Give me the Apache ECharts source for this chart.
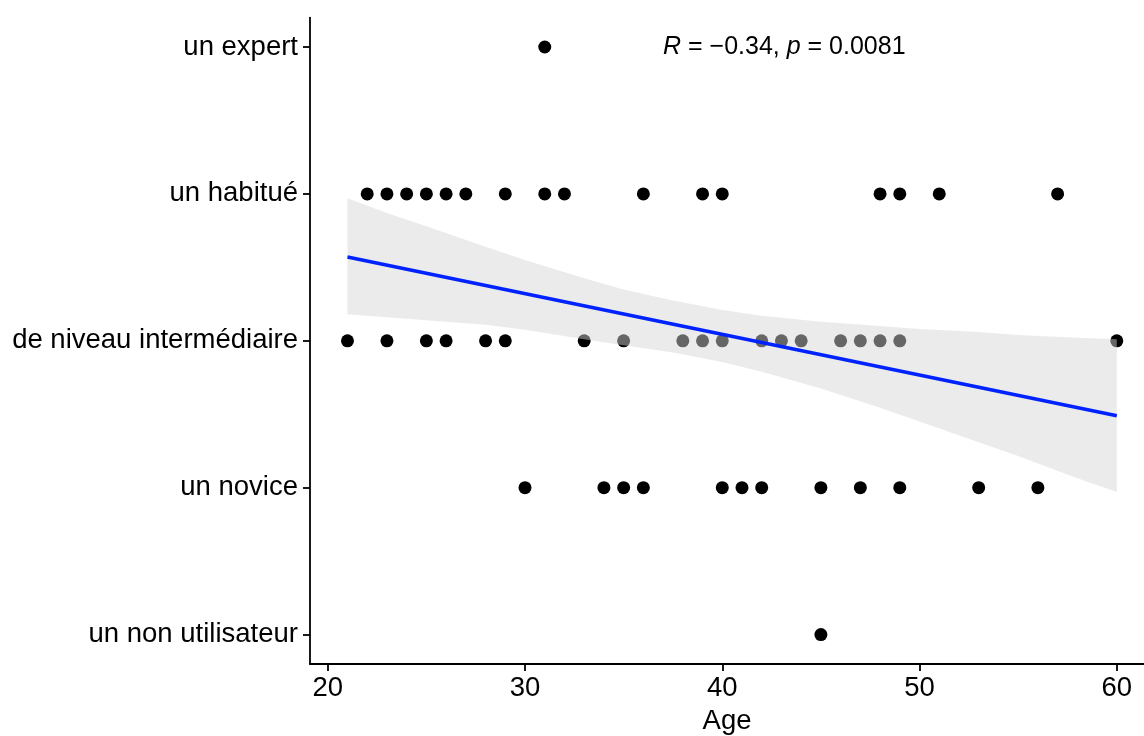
<!DOCTYPE html>
<html>
<head>
<meta charset="utf-8">
<script src="https://cdn.jsdelivr.net/npm/echarts@6/dist/echarts.min.js"></script>
<style>html,body{margin:0;padding:0;background:#fff}#c{width:1144px;height:736px}</style>
</head>
<body>
<div id="c"></div>
<script>
// ----- data -----
const levels = ['un non utilisateur', 'un novice', 'de niveau intermédiaire', 'un habitué', 'un expert'];
const ageExpert = [31];
const ageHabitue = [22, 23, 24, 25, 26, 27, 29, 31, 32, 36, 39, 40, 48, 49, 51, 57];
const ageInter = [21, 23, 25, 26, 28, 29, 33, 35, 38, 39, 40, 42, 43, 44, 46, 47, 48, 49, 60];
const ageNovice = [30, 34, 35, 36, 40, 41, 42, 45, 47, 49, 53, 56];
const ageNon = [45];
const xTicks = [20, 30, 40, 50, 60];
const yTicks = [1, 2, 3, 4, 5];
// regression line and confidence band
const lineX = [21, 60];
const lineY = [3.57, 2.49];
const bandX = [21, 23, 25, 28, 30, 33, 35, 37.5, 40, 42, 45, 48, 50, 53, 55, 58, 60];
const bandLow = [3.18, 3.16, 3.14, 3.11, 3.075, 3.01, 2.97, 2.92, 2.855, 2.79, 2.675, 2.545, 2.45, 2.31, 2.215, 2.065, 1.97];
const bandHigh = [3.97, 3.87, 3.78, 3.64, 3.55, 3.425, 3.35, 3.275, 3.21, 3.17, 3.13, 3.10, 3.08, 3.06, 3.04, 3.02, 3.01];
const corText = { r: '−0.34', p: '0.0081' };

// ----- build -----
const points = [];
[[ageNon, 1], [ageNovice, 2], [ageInter, 3], [ageHabitue, 4], [ageExpert, 5]].forEach(([arr, lv]) => {
  arr.forEach(a => points.push([a, lv]));
});
const fitData = lineX.map((x, i) => [x, lineY[i]]);
const bandData = bandX.map((x, i) => [x, bandLow[i], bandHigh[i]]);

const FONT = '"Liberation Sans", Arial, sans-serif';
const chart = echarts.init(document.getElementById('c'), null, { renderer: 'canvas' });
chart.setOption({
  animation: false,
  backgroundColor: '#fff',
  grid: { left: 310, right: 0, top: 17.6, bottom: 72, containLabel: false, outerBoundsMode: 'none' },
  xAxis: {
    type: 'value', min: 19.1, max: 61.38,
    name: 'Age', nameLocation: 'middle', nameGap: 43,
    nameTextStyle: { fontFamily: FONT, fontSize: 27.5, color: '#000' },
    axisLine: { show: true, onZero: false, lineStyle: { color: '#000', width: 1.8 } },
    axisTick: { show: true, length: 7, lineStyle: { color: '#000', width: 1.8 }, customValues: xTicks },
    axisLabel: { fontFamily: FONT, fontSize: 27.5, color: '#000', margin: 10, customValues: xTicks },
    splitLine: { show: false }
  },
  yAxis: {
    type: 'value', min: 0.8, max: 5.2,
    axisLine: { show: true, onZero: false, lineStyle: { color: '#000', width: 1.8 } },
    axisTick: { show: true, length: 7, lineStyle: { color: '#000', width: 1.8 }, customValues: yTicks },
    axisLabel: { fontFamily: FONT, fontSize: 27.5, color: '#000', margin: 12, customValues: yTicks,
      formatter: v => levels[Math.round(v) - 1] || '' },
    splitLine: { show: false }
  },
  series: [
    {
      type: 'scatter', data: points, symbol: 'circle', symbolSize: 13,
      itemStyle: { color: '#000', opacity: 1 }, z: 2
    },
    {
      type: 'custom', data: [0], z: 3, silent: true,
      renderItem: (params, api) => {
        const pts = [];
        bandData.forEach(d => pts.push(api.coord([d[0], d[2]])));
        for (let i = bandData.length - 1; i >= 0; i--) pts.push(api.coord([bandData[i][0], bandData[i][1]]));
        return { type: 'polygon', shape: { points: pts },
          style: { fill: 'rgb(213,213,213)', opacity: 0.48 } };
      }
    },
    {
      type: 'line', data: fitData, symbol: 'none', smooth: false, z: 4,
      lineStyle: { color: '#0022ff', width: 3.6 }
    }
  ],
  graphic: [{
    type: 'text', left: 663, top: 35, z: 10,
    style: {
      text: '{i|R} = ' + corText.r + ', {i|p} = ' + corText.p,
      fill: '#000', font: '25px ' + FONT,
      rich: { i: { fontStyle: 'italic', fontSize: 25, fontFamily: FONT, fill: '#000' } }
    }
  }]
});
</script>
</body>
</html>
